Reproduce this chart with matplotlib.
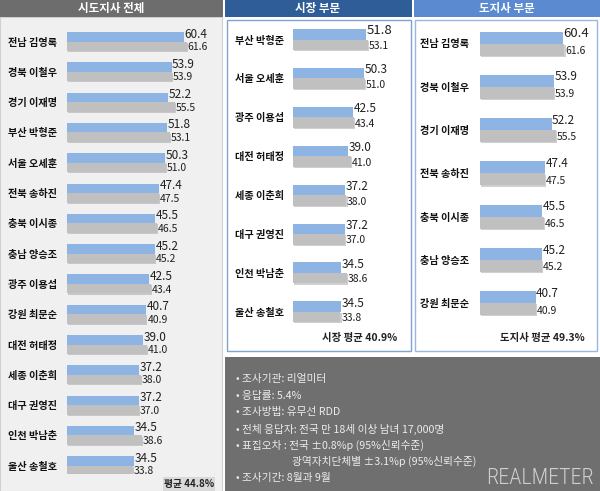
import matplotlib
matplotlib.use("Agg")
import matplotlib.pyplot as plt
from matplotlib.patches import Rectangle
import matplotlib.patheffects as pe
from matplotlib import font_manager

plt.rcParams['font.family'] = ['Noto Sans CJK KR', 'DejaVu Sans']

# ---------------- data ----------------
all_names = ["전남 김영록", "경북 이철우", "경기 이재명", "부산 박형준", "서울 오세훈",
             "전북 송하진", "충북 이시종", "충남 양승조", "광주 이용섭", "강원 최문순",
             "대전 허태정", "세종 이춘희", "대구 권영진", "인천 박남춘", "울산 송철호"]
all_now = [60.4, 53.9, 52.2, 51.8, 50.3, 47.4, 45.5, 45.2, 42.5, 40.7, 39.0, 37.2, 37.2, 34.5, 34.5]
all_prev = [61.6, 53.9, 55.5, 53.1, 51.0, 47.5, 46.5, 45.2, 43.4, 40.9, 41.0, 38.0, 37.0, 38.6, 33.8]

mayor_names = ["부산 박형준", "서울 오세훈", "광주 이용섭", "대전 허태정",
               "세종 이춘희", "대구 권영진", "인천 박남춘", "울산 송철호"]
mayor_now = [51.8, 50.3, 42.5, 39.0, 37.2, 37.2, 34.5, 34.5]
mayor_prev = [53.1, 51.0, 43.4, 41.0, 38.0, 37.0, 38.6, 33.8]

gov_names = ["전남 김영록", "경북 이철우", "경기 이재명", "전북 송하진",
             "충북 이시종", "충남 양승조", "강원 최문순"]
gov_now = [60.4, 53.9, 52.2, 47.4, 45.5, 45.2, 40.7]
gov_prev = [61.6, 53.9, 55.5, 47.5, 46.5, 45.2, 40.9]

titles = ["시도지사 전체", "시장 부문", "도지사 부문"]
avg_texts = ["평균 44.8%", "시장 평균 40.9%", "도지사 평균 49.3%"]
notes = ["• 조사기관: 리얼미터",
         "• 응답률: 5.4%",
         "• 조사방법: 유무선 RDD",
         "• 전체 응답자: 전국 만 18세 이상 남녀 17,000명",
         "• 표집오차 : 전국 ±0.8%p (95%신뢰수준)",
         "광역자치단체별 ±3.1%p (95%신뢰수준)",
         "• 조사기간: 8월과 9월"]
logo = "REALMETER"

W, H = 600, 491
fig = plt.figure(figsize=(6, 4.91), dpi=100)
fig.patch.set_facecolor("white")

def rect(x0, y0, x1, y1, fc, ec="none", lw=0, z=0):
    r = Rectangle((x0 / W, 1 - y1 / H), (x1 - x0) / W, (y1 - y0) / H,
                  transform=fig.transFigure, facecolor=fc, edgecolor=ec,
                  linewidth=lw, zorder=z)
    fig.add_artist(r)

def ftext(x, y, s, **kw):
    return fig.text(x / W, 1 - y / H, s, **kw)

BLUE = "#8db4e2"
GRAY = "#c0c0c0"

# ---- backgrounds ----
rect(0, 17, 222, 491, "#f0f0f0", ec="#d0d0d0", lw=0.8)
rect(0, 0, 223, 17, "#6d6d6d")
rect(225, 0, 412, 17, "#2f5d98")
rect(414, 0, 600, 17, "#5b8ad0")
rect(227, 20, 411, 351, "white", ec="#7fa3d3", lw=1.0)
rect(415, 20, 597, 351, "white", ec="#9ab7e0", lw=1.0)
rect(225, 357, 600, 491, "#6f6f6f")
rect(163, 477, 215, 491, "#d9d9d9")

for t, xc in zip(titles, [111, 318, 507]):
    ftext(xc, 8.5, t, color="white", fontsize=8.3, fontweight="bold",
          ha="center", va="center")

shadow = [pe.SimplePatchShadow(offset=(0.8, -0.8), shadow_rgbFace="#8a8a8a", alpha=0.4),
          pe.Normal()]

def panel(names, now, prev, x0, x1, y0, y1, first_y, step, pxu, bar_px, lab_pad,
          big_first=False):
    n = len(names)
    ax = fig.add_axes([x0 / W, 1 - y1 / H, (x1 - x0) / W, (y1 - y0) / H])
    ax.set_xlim(0, (x1 - x0) / pxu)
    top = -(first_y - y0) / step
    bot = (y1 - first_y) / step
    ax.set_ylim(bot, top)
    h = bar_px / step
    idx = list(range(n))
    b2 = ax.barh([i + h / 2 for i in idx], prev, height=h, color=GRAY, zorder=2)
    b1 = ax.barh([i - h / 2 for i in idx], now, height=h, color=BLUE, zorder=3)
    for b in list(b2):
        b.set_path_effects(shadow)
    for i in idx:
        fs = 9.5 if (big_first and i == 0) else 8.5
        ax.text(now[i] + 0.3, i - h / 2 - 0.09, f"{now[i]:.1f}", fontsize=fs,
                ha="left", va="center", color="#202020", zorder=4)
        ax.text(prev[i] + 0.5, i + h / 2 + 0.03, f"{prev[i]:.1f}", fontsize=7.5,
                ha="left", va="center", color="#202020", zorder=4)
    ax.set_yticks(idx)
    ax.set_yticklabels(names, fontsize=7.3, fontweight="bold", color="#111111")
    ax.tick_params(axis="y", length=0, pad=lab_pad)
    ax.set_xticks([])
    for s in ax.spines.values():
        s.set_visible(False)
    ax.patch.set_alpha(0)
    return ax

panel(all_names, all_now, all_prev, 67, 220, 20, 474, 41.5, 30.3, 1.94, 9.5, 7)
panel(mayor_names, mayor_now, mayor_prev, 292.5, 405, 22, 330, 39.5, 38.9, 1.42, 10.5, 6,
      big_first=True)
panel(gov_names, gov_now, gov_prev, 480, 595, 22, 330, 43.5, 43.3, 1.37, 12, 8,
      big_first=True)

ftext(189, 484, avg_texts[0], fontsize=7, fontweight="bold", ha="center", va="center",
      color="#222222")
ftext(397, 338, avg_texts[1], fontsize=7.5, fontweight="bold", ha="right", va="center",
      color="#222222")
ftext(585, 338, avg_texts[2], fontsize=7.5, fontweight="bold", ha="right", va="center",
      color="#222222")

ys = [379, 396, 412, 429, 445, 461, 478]
for k, (line, y) in enumerate(zip(notes, ys)):
    x = 292 if k == 5 else 236
    ftext(x, y, line, fontsize=7.7, color="#ececec", ha="left", va="center")

# logo: pick a narrow font if available and fit to the target width
names_avail = {f.name for f in font_manager.fontManager.ttflist}
logo_fam = "DejaVu Sans"
stretch = "normal"
for cand in ["Liberation Sans Narrow", "DejaVu Sans Condensed", "Roboto Condensed",
             "Open Sans Condensed"]:
    if cand in names_avail:
        logo_fam = cand
        break
lt = ftext(594, 478, logo, fontsize=20, color="#cfcfcf", ha="right", va="center",
           family=logo_fam, fontweight="light")
fig.canvas.draw()
r = fig.canvas.get_renderer()
wpx = lt.get_window_extent(r).width
target = 108
if wpx > target:
    lt.set_fontsize(20 * target / wpx)

fig.savefig("out.png", dpi=100, facecolor=fig.get_facecolor())
